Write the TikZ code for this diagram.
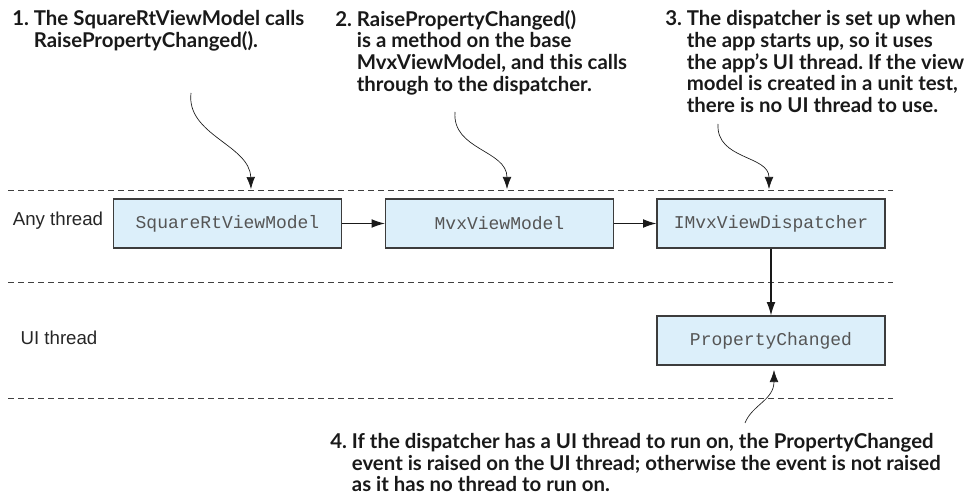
\documentclass[tikz,border=0pt]{standalone}
\usepackage{fontspec}
\setmainfont{Lato}
\setsansfont{Liberation Sans}
\setmonofont{Liberation Mono}
\usetikzlibrary{arrows.meta}
\definecolor{boxfill}{HTML}{DCEFFA}
\definecolor{boxdraw}{HTML}{3C3C3C}
\definecolor{monotext}{HTML}{555555}
\definecolor{dashcol}{HTML}{404040}
\begin{document}
\begin{tikzpicture}[x=0.75pt,y=-0.75pt,
  clsbox/.style={draw=boxdraw, fill=boxfill, line width=0.8pt, minimum width=171pt, minimum height=36.75pt, inner sep=0pt,
    font=\fontsize{13.5}{16}\ttfamily, text=monotext},
  lanelabel/.style={anchor=center, inner sep=0pt, font=\fontsize{14}{16}\sffamily, text=black!85},
  note/.style={anchor=north west, inner sep=0pt, font=\fontsize{15.3}{16.1}\selectfont\bfseries\frenchspacing, text=black!90},
  lane/.style={draw=dashcol, line width=0.6pt, dash pattern=on 4.5pt off 3pt},
  flow/.style={draw=black!90, line width=0.8pt, -{Latex[length=10pt,width=6.5pt]}},
  callout/.style={draw=black!90, line width=0.5pt, -{Latex[length=9pt,width=6.5pt]}}
]
\useasboundingbox (0,0) rectangle (976,503);

% swimlane separators
\coordinate (l1a) at (8,190);   \coordinate (l1b) at (893,190);
\coordinate (l2a) at (8,282);   \coordinate (l2b) at (893,282);
\coordinate (l3a) at (8,398);   \coordinate (l3b) at (893,398);
\draw[lane] (l1a) -- (l1b);
\draw[lane] (l2a) -- (l2b);
\draw[lane] (l3a) -- (l3b);

% lane labels
\node[lanelabel] (any) at (58,221) {Any thread};
\node[lanelabel] (ui) at (59,338) {UI thread};

% boxes
\node[clsbox] (sq) at (227.5,223.5) {SquareRtViewModel};
\node[clsbox] (mvx) at (499.5,223.5) {MvxViewModel};
\node[clsbox] (disp) at (771,223.5) {IMvxViewDispatcher};
\node[clsbox] (pc) at (771,340.5) {PropertyChanged};

\draw[flow] (sq) -- (mvx);
\draw[flow] (mvx) -- (disp);
\draw[flow] (disp) -- (pc);

% notes
\node[note] (n1) at (12,10) {\begin{tabular}{@{}l@{\ }l@{}}1. & The SquareRtViewModel calls\\ & RaisePropertyChanged().\end{tabular}};
\node[note] (n2) at (335,10) {\begin{tabular}{@{}l@{\ }l@{}}2. & RaisePropertyChanged()\\ & is a method on the base\\ & MvxViewModel, and this calls\\ & through to the dispatcher.\end{tabular}};
\node[note] (n3) at (665,10) {\begin{tabular}{@{}l@{\ }l@{}}3. & The dispatcher is set up when\\ & the app starts up, so it uses\\ & the app’s UI thread. If the view\\ & model is created in a unit test,\\ & there is no UI thread to use.\end{tabular}};
\node[note] (n4) at (330,433) {\begin{tabular}{@{}l@{\ }l@{}}4. & If the dispatcher has a UI thread to run on, the PropertyChanged\\ & event is raised on the UI thread; otherwise the event is not raised\\ & as it has no thread to run on.\end{tabular}};

% callouts
\coordinate (c1s) at (191,93);  \coordinate (c1e) at (251,189);
\coordinate (c2s) at (455,112); \coordinate (c2e) at (507,189);
\coordinate (c3s) at (718,124); \coordinate (c3e) at (769,189);
\coordinate (c4s) at (745,423); \coordinate (c4e) at (774,370);
\draw[callout] (c1s) .. controls (186,135) and (250,145) .. (c1e);
\draw[callout] (c2s) .. controls (452,150) and (507,150) .. (c2e);
\draw[callout] (c3s) .. controls (716,160) and (769,155) .. (c3e);
\draw[callout] (c4s) .. controls (752,405) and (774,400) .. (c4e);
\end{tikzpicture}
\end{document}
